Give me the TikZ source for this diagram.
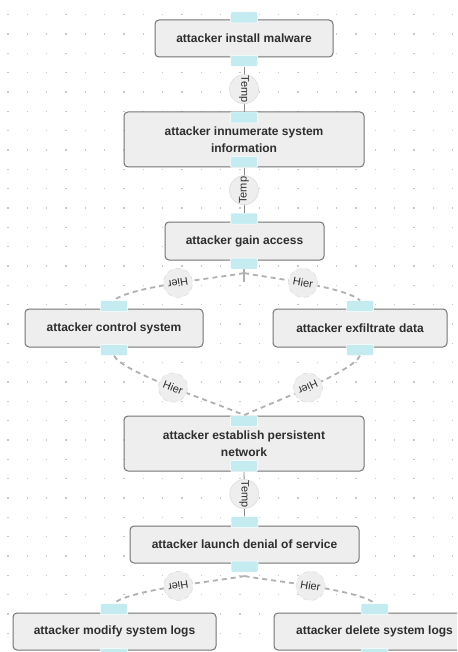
\documentclass[tikz,border=0pt]{standalone}
\usepackage{fontspec}
\setmainfont{Liberation Sans}
\definecolor{boxfill}{HTML}{EEEEEE}
\definecolor{boxline}{HTML}{747474}
\definecolor{portfill}{HTML}{C3EBF0}
\definecolor{labfill}{HTML}{EEEEEE}
\definecolor{labline}{HTML}{DEDEDE}
\definecolor{templine}{HTML}{8A8A8A}
\definecolor{hierline}{HTML}{B0B0B0}
\definecolor{txt}{HTML}{2E2E2E}
\definecolor{dotc}{HTML}{C8C8C8}
\begin{document}
\begin{tikzpicture}[x=1pt,y=1pt,
  box/.style={draw=boxline, fill=boxfill, rounded corners=4pt, line width=1pt, inner sep=0pt,
    font=\bfseries\fontsize{12}{16.5}\selectfont, text=txt, align=center},
  port/.style={fill=portfill, draw=white, line width=0.5pt, minimum width=27pt, minimum height=11pt,
    inner sep=0pt, rounded corners=1pt},
  lab/.style={circle, fill=labfill, draw=labline, line width=0.6pt, minimum size=29pt, inner sep=0pt,
    font=\fontsize{11}{12}\selectfont, text=txt, sloped, allow upside down},
  temp/.style={draw=templine, line width=0.9pt},
  hier/.style={draw=hierline, line width=1.8pt, dash pattern=on 5pt off 4pt},
]
\useasboundingbox (0,0) rectangle (457,-652);
\clip (0,0) rectangle (457,-652);
\fill[white] (0,0) rectangle (457,-652);
\foreach \i in {0,...,23} \foreach \j in {0,...,33}
  \fill[dotc] ({8+19.33*\i-0.6},{-14.7-19.33*\j-0.6}) rectangle ++(1.2,1.2);

% boxes
\node[box, minimum width=178pt, minimum height=37pt] (b1) at (244,-38.5) {attacker install malware};
\node[box, minimum width=240pt, minimum height=55pt] (b2) at (244,-139.5) {attacker innumerate system\\information};
\node[box, minimum width=159pt, minimum height=38pt] (b3) at (244.5,-241) {attacker gain access};
\node[box, minimum width=178pt, minimum height=38pt] (bc) at (114,-328) {attacker control system};
\node[box, minimum width=174pt, minimum height=38pt] (be) at (360,-328) {attacker exfiltrate data};
\node[box, minimum width=240pt, minimum height=55pt] (bp) at (244,-443.5) {attacker establish persistent\\network};
\node[box, minimum width=229pt, minimum height=37pt] (bl) at (244.5,-544.5) {attacker launch denial of service};
\node[box, minimum width=203pt, minimum height=37pt] (bm) at (114.5,-631.5) {attacker modify system logs};
\node[box, minimum width=201pt, minimum height=37pt] (bd) at (374.5,-631.5) {attacker delete system logs};

% ports
\node[port] (b1t) at (244,-17.5) {};
\node[port] (b1b) at (244,-61) {};
\node[port] (b2t) at (244,-117.5) {};
\node[port] (b2b) at (244,-162) {};
\node[port] (b3t) at (244,-218.5) {};
\node[port] (b3b) at (244,-263.5) {};
\node[port] (ct) at (114,-306) {};
\node[port] (cb) at (114,-350) {};
\node[port] (et) at (360,-306) {};
\node[port] (eb) at (360,-350) {};
\node[port] (pt) at (244,-421) {};
\node[port] (pb) at (244,-466) {};
\node[port] (lt) at (244.5,-522) {};
\node[port] (lb) at (244.5,-566.5) {};
\node[port] (mt) at (114,-609) {};
\node[port] (mb) at (114,-654) {};
\node[port] (dt) at (374.5,-609) {};
\node[port] (db) at (374.5,-654) {};

% temporal edges
\draw[temp] (b1b.south) -- node[lab] {Temp} (b2t.north);
\draw[temp] (b3t.north) -- node[lab] {Temp} (b2b.south);
\draw[temp] (pb.south) -- node[lab] {Temp} (lt.north);

% hierarchy edges
\coordinate (g) at (244,-273);
\coordinate (gs) at (244,-282);
\draw[draw=hierline, line width=1.6pt] (b3b.south) -- (gs);
\draw[hier] (g) .. controls +(192:20) and +(40:22) .. node[lab] {Hier} (ct.north);
\draw[hier] (g) .. controls +(-12:20) and +(140:22) .. node[lab] {Hier} (et.north);
\draw[hier] (cb.south) .. controls +(-62:20) and +(155:28) .. node[lab] {Hier} (pt.north);
\draw[hier] (eb.south) .. controls +(-118:20) and +(25:28) .. node[lab] {Hier} (pt.north);
\coordinate (q) at (244.5,-576);
\draw[hier] (q) .. controls +(192:20) and +(40:22) .. node[lab] {Hier} (mt.north);
\draw[hier] (q) .. controls +(-12:20) and +(140:22) .. node[lab] {Hier} (dt.north);
\end{tikzpicture}
\end{document}
